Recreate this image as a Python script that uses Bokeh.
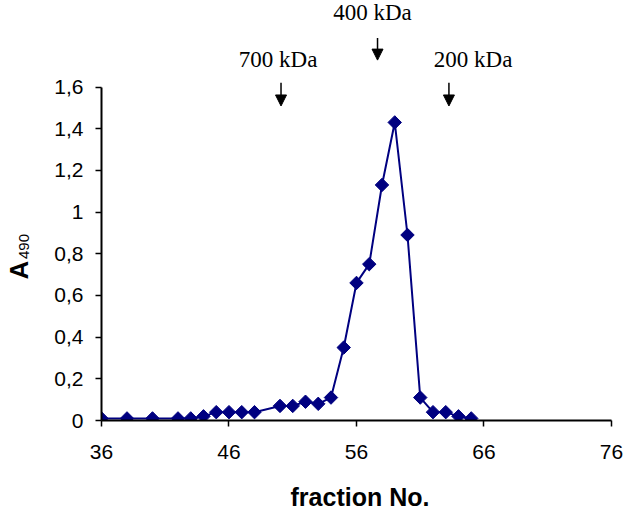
import numpy as np
from bokeh.plotting import figure
from bokeh.layouts import row
from bokeh.models import Range1d, FixedTicker, Label, Arrow, NormalHead
from bokeh.embed import file_html
from bokeh.resources import INLINE

# ---- data ----
fraction = [36, 38, 40, 42, 43, 44, 45, 46, 47, 48, 50, 51, 52, 53, 54,
            55, 56, 57, 58, 59, 60, 61, 62, 63, 64, 65]
a490 = [0.01, 0.01, 0.01, 0.01, 0.01, 0.02, 0.04, 0.04, 0.04, 0.04, 0.07, 0.07,
        0.09, 0.08, 0.11, 0.35, 0.66, 0.75, 1.13, 1.43, 0.89, 0.11, 0.04,
        0.04, 0.02, 0.01]

x_ticks = [36, 46, 56, 66, 76]
y_ticks = [0, 0.2, 0.4, 0.6, 0.8, 1.0, 1.2, 1.4, 1.6]
y_tick_labels = ["0", "0,2", "0,4", "0,6", "0,8", "1", "1,2", "1,4", "1,6"]

mw_names = ["700 kDa", "400 kDa", "200 kDa"]
mw_fraction = [50.08, 57.65, 63.25]

NAVY = "#000080"
Y_END = 2.015

# ---- narrow panel holding the y-axis title (A bold + 490 small) ----
lab = figure(width=40, height=515, output_backend="svg", toolbar_location=None,
             x_range=Range1d(0, 40), y_range=Range1d(0, Y_END),
             x_axis_location=None, y_axis_location=None,
             min_border_left=0, min_border_right=0, min_border_top=0,
             min_border_bottom=95)
lab.outline_line_color = None
lab.grid.visible = False
lab.add_layout(Label(x=18.5, y=0.722, text="A", angle=np.pi / 2,
                     text_align="center", text_baseline="middle",
                     text_font="Liberation Sans", text_font_style="bold",
                     text_font_size="26px", text_color="black"))
lab.add_layout(Label(x=23.5, y=0.835, text="490", angle=np.pi / 2,
                     text_align="center", text_baseline="middle",
                     text_font="Liberation Sans",
                     text_font_size="15px", text_color="black"))

# ---- main chart ----
p = figure(width=585, height=515, output_backend="svg", toolbar_location=None,
           x_range=Range1d(36, 76.55), y_range=Range1d(0, Y_END),
           frame_width=517, frame_height=420,
           min_border_left=61, min_border_right=7, min_border_top=0,
           min_border_bottom=95)

p.outline_line_color = None
p.grid.visible = False
p.background_fill_color = "white"
p.border_fill_color = "white"

for ax in (p.xaxis, p.yaxis):
    ax.axis_line_color = "black"
    ax.axis_line_width = 2
    ax.major_tick_line_color = "black"
    ax.major_tick_line_width = 1.5
    ax.major_tick_out = 6
    ax.major_tick_in = 0
    ax.minor_tick_line_color = None
    ax.major_label_text_font = "Liberation Sans"
    ax.major_label_text_font_size = "21px"
    ax.major_label_text_color = "black"

p.xaxis.ticker = FixedTicker(ticks=x_ticks)
p.xaxis.bounds = (36, 76)
p.xaxis.major_label_standoff = 18
p.xaxis.axis_label = "fraction No."
p.xaxis.axis_label_text_font = "Liberation Sans"
p.xaxis.axis_label_text_font_style = "bold"
p.xaxis.axis_label_text_font_size = "25px"
p.xaxis.axis_label_text_color = "black"
p.xaxis.axis_label_standoff = 21

p.yaxis.ticker = FixedTicker(ticks=y_ticks)
p.yaxis.major_label_overrides = {t: s for t, s in zip(y_ticks, y_tick_labels)}
p.yaxis.bounds = (0, 1.6)
p.yaxis.major_label_standoff = 12

# series
p.line(fraction, a490, line_color=NAVY, line_width=2)
p.scatter(fraction, a490, marker="square", angle=np.pi / 4, size=9.5,
          fill_color=NAVY, line_color=NAVY)

# MW markers (label placement and arrow extents are layout, not data)
label_x = [49.85, 57.25, 65.15]
label_y = [1.730, 1.958, 1.730]
arrow_top = [1.62, 1.835, 1.62]
arrow_len = [0.111, 0.106, 0.111]
for name, fx, lx, ly, at, al in zip(mw_names, mw_fraction, label_x, label_y,
                                    arrow_top, arrow_len):
    p.add_layout(Label(x=lx, y=ly, text=name, text_align="center",
                       text_baseline="middle",
                       text_font="Liberation Serif",
                       text_font_size="23px", text_color="black"))
    p.add_layout(Arrow(x_start=fx, y_start=at, x_end=fx, y_end=at - al,
                       line_color="black", line_width=1.5,
                       end=NormalHead(size=11, fill_color="black",
                                      line_color="black")))

layout = row(lab, p, spacing=0)
open("out.html", "w").write(file_html(layout, INLINE))
